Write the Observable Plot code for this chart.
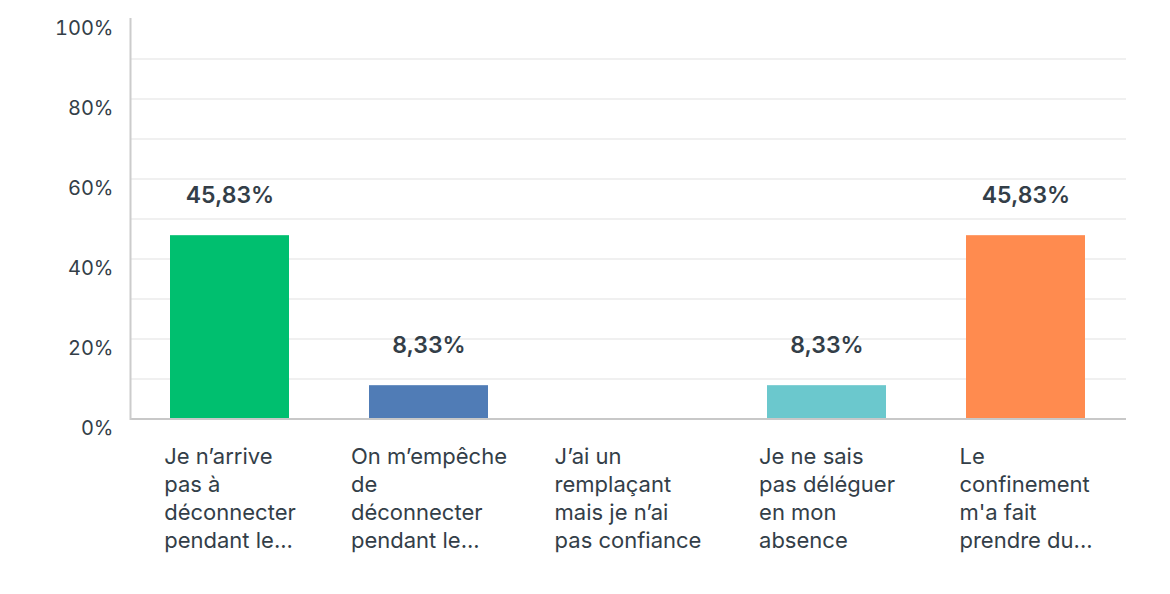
<!DOCTYPE html>
<html>
<head>
<meta charset="utf-8">
<script src="https://cdn.jsdelivr.net/npm/d3@7"></script>
<script src="https://cdn.jsdelivr.net/npm/@observablehq/plot@0.6"></script>
<style>
  html, body { margin: 0; padding: 0; background: #fff; }
  #chart { width: 1170px; height: 594px; }
</style>
</head>
<body>
<div id="chart"></div>
<script>
const categories = ["c1", "c2", "c3", "c4", "c5"];
const labels = [
  "Je n’arrive\npas à\ndéconnecter\npendant le...",
  "On m’empêche\nde\ndéconnecter\npendant le...",
  "J’ai un\nremplaçant\nmais je n’ai\npas confiance",
  "Je ne sais\npas déléguer\nen mon\nabsence",
  "Le\nconfinement\nm'a fait\nprendre du..."
];
const values = [45.83, 8.33, 0, 8.33, 45.83];
const colors = ["#00bf6f", "#507cb6", "#f9be00", "#6bc8cd", "#ff8b4f"];
const yTicks = [0, 20, 40, 60, 80, 100];
const gridTicks = [10, 20, 30, 40, 50, 60, 70, 80, 90];

const FONT = "Inter";
const LABEL_SIZE = 22;
const textColor = "#333e48";

const data = categories.map((c, i) => ({cat: c, label: labels[i], value: values[i], color: colors[i]}));

const ctx = document.createElement("canvas").getContext("2d");
ctx.font = `${LABEL_SIZE}px ${FONT}`;
function blockWidth(s) {
  return Math.max(...s.split("\n").map(l => ctx.measureText(l).width));
}

const labelMarks = data.map(d => Plot.text([d], {
  x: "cat", y: () => 0, text: "label",
  textAnchor: "start", lineAnchor: "top", lineHeight: 28 / LABEL_SIZE,
  dx: -blockWidth(d.label) / 2, dy: 25,
  fontSize: LABEL_SIZE, fill: textColor
}));

const chart = Plot.plot({
  width: 1170,
  height: 594,
  marginLeft: 130,
  marginRight: 44,
  marginTop: 18.5,
  marginBottom: 175.5,
  style: {fontFamily: FONT, background: "#fff", color: textColor},
  x: {domain: categories, paddingInner: 0.4, paddingOuter: 0.2, axis: null},
  y: {domain: [0, 100], axis: null},
  marks: [
    Plot.ruleY(gridTicks, {stroke: "#ebebeb", strokeWidth: 1.5}),
    Plot.barY(data.filter(d => d.value > 0), {x: "cat", y: "value", fill: "color"}),
    Plot.ruleY([0], {stroke: "#c8c8c8", strokeWidth: 2}),
    Plot.frame({anchor: "left", stroke: "#cccccc", strokeWidth: 2}),
    Plot.axisY(yTicks, {label: null, tickSize: 0, tickPadding: 17, dy: 10, tickFormat: d => d + "%", fontSize: 20, fill: textColor, textAnchor: "end"}),
    Plot.text(data.filter(d => d.value > 0), {
      x: "cat", y: "value", dy: -40,
      text: d => d.value.toFixed(2).replace(".", ",") + "%",
      fontSize: 23, fontWeight: 600, fill: textColor
    }),
    ...labelMarks
  ]
});
document.getElementById("chart").appendChild(chart);
</script>
</body>
</html>
